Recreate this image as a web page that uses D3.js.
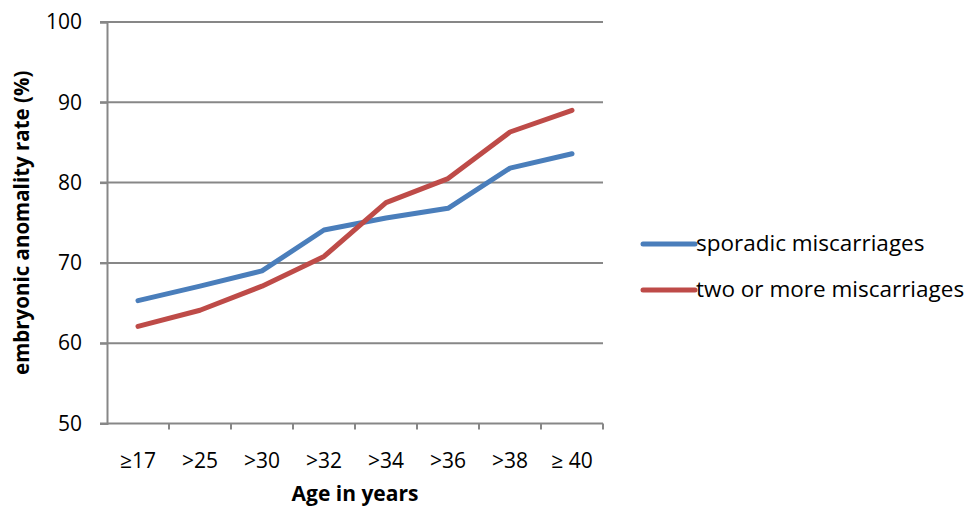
<!DOCTYPE html>
<html><head><meta charset="utf-8">
<script src="https://cdn.jsdelivr.net/npm/d3@7"></script>
<style>body{margin:0;background:#fff;} text{font-family:"Open Sans",sans-serif;}</style>
</head><body>
<svg id="c" width="979" height="510"></svg>
<script>
const categories = ["≥17", ">25", ">30", ">32", ">34", ">36", ">38", "≥ 40"];
const sporadic = [65.3, 67.1, 69.0, 74.1, 75.6, 76.8, 81.8, 83.6];
const twoOrMore = [62.1, 64.1, 67.1, 70.8, 77.5, 80.5, 86.3, 89.0];
const yTicks = [50, 60, 70, 80, 90, 100];
const seriesNames = ["sporadic miscarriages", "two or more miscarriages"];
const colors = ["#4a7ebb", "#be4b48"];

const svg = d3.select("#c");
const mLeft = 107, mRight = 603, mTop = 22, mBottom = 423.5;
const x = d3.scaleBand().domain(categories).range([mLeft, mRight]);
const y = d3.scaleLinear().domain([50, 100]).range([mBottom, mTop]);

// gridlines
svg.append("g").selectAll("line").data(yTicks.slice(1)).join("line")
  .attr("x1", mLeft - 7).attr("x2", mRight).attr("y1", d => y(d)).attr("y2", d => y(d))
  .attr("stroke", "#878787").attr("stroke-width", 2);

// y axis
const yAxis = d3.axisLeft(y).tickValues(yTicks).tickSize(7).tickPadding(18);
const gy = svg.append("g").attr("transform", `translate(${mLeft},0)`).call(yAxis);
gy.select(".domain").attr("stroke", "#878787").attr("stroke-width", 2);
gy.selectAll(".tick line").attr("stroke", "#878787").attr("stroke-width", 2);
gy.selectAll("text").attr("font-size", 21).attr("fill", "#000").attr("font-family", "Open Sans");

// x axis
const gx = svg.append("g").attr("transform", `translate(0,${mBottom})`);
gx.append("line").attr("x1", mLeft - 7).attr("x2", mRight).attr("y1", 0).attr("y2", 0)
  .attr("stroke", "#878787").attr("stroke-width", 2);
const bounds = categories.map(c => x(c)).concat([mRight]);
gx.selectAll(".tk").data(bounds.slice(1)).join("line").attr("class", "tk")
  .attr("x1", d => d).attr("x2", d => d).attr("y1", 0).attr("y2", 6)
  .attr("stroke", "#878787").attr("stroke-width", 2);
gx.selectAll(".lb").data(categories).join("text").attr("class", "lb")
  .attr("x", d => x(d) + x.bandwidth() / 2).attr("y", 44)
  .attr("text-anchor", "middle").attr("font-size", 21).text(d => d);

// lines
const line = d3.line().x((d, i) => x(categories[i]) + x.bandwidth() / 2).y(d => y(d));
[sporadic, twoOrMore].forEach((s, k) => {
  svg.append("path").datum(s).attr("d", line).attr("fill", "none")
    .attr("stroke", colors[k]).attr("stroke-width", 5)
    .attr("stroke-linejoin", "round").attr("stroke-linecap", "round");
});

// axis titles
svg.append("text").attr("transform", `translate(29,${(mTop + mBottom) / 2}) rotate(-90)`)
  .attr("text-anchor", "middle").attr("font-size", 20.5).attr("font-weight", "bold")
  .text("embryonic anomality rate (%)");
svg.append("text").attr("x", 355).attr("y", 501).attr("text-anchor", "middle")
  .attr("font-size", 21).attr("font-weight", "bold").text("Age in years");

// legend
const lg = svg.append("g");
seriesNames.forEach((n, k) => {
  const ly = 244 + k * 46;
  lg.append("line").attr("x1", 643).attr("x2", 695).attr("y1", ly).attr("y2", ly)
    .attr("stroke", colors[k]).attr("stroke-width", 5).attr("stroke-linecap", "round");
  lg.append("text").attr("x", 696).attr("y", ly + 7).attr("font-size", 22.5).text(n);
});
</script>
</body></html>
